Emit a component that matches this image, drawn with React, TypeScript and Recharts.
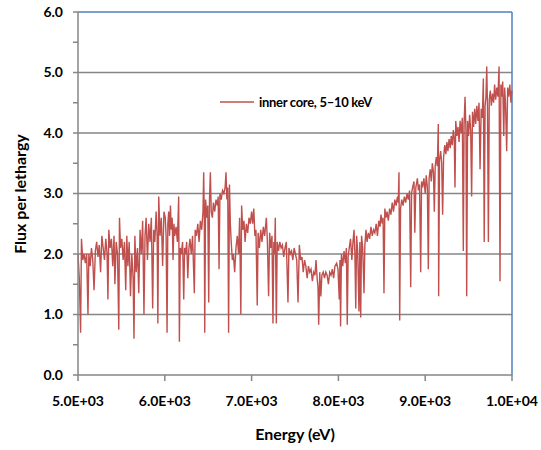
import React from 'react';
import { LineChart, Line, XAxis, YAxis, ReferenceLine } from 'recharts';

// [energy (eV), flux per lethargy], one array per 1 keV band
const band5000: [number, number][] = [
  [5000, 2.0], [5015, 1.6], [5030, 0.7], [5040, 2.25], [5055, 1.9], [5070, 2.0], [5085, 1.85],
  [5100, 2.0], [5115, 1.0], [5125, 2.0], [5140, 1.8], [5155, 2.1], [5170, 1.9], [5185, 1.4],
  [5200, 2.05], [5215, 2.2], [5230, 1.95], [5245, 2.15], [5260, 1.7], [5275, 2.3], [5290, 2.1],
  [5305, 1.9], [5320, 2.25], [5335, 2.0], [5345, 1.25], [5355, 2.4], [5370, 2.1], [5385, 2.25],
  [5400, 1.8], [5415, 2.3], [5425, 1.5], [5440, 2.2], [5455, 2.0], [5470, 0.75], [5478, 2.6],
  [5490, 2.1], [5505, 2.25], [5520, 1.9], [5535, 2.2], [5550, 1.4], [5562, 2.3], [5575, 1.8],
  [5590, 2.2], [5605, 1.3], [5620, 2.0], [5635, 1.6], [5645, 0.6], [5655, 2.3], [5670, 1.7],
  [5685, 2.1], [5700, 1.35], [5715, 2.4], [5730, 2.0], [5745, 2.55], [5760, 1.0], [5772, 2.3],
  [5785, 2.6], [5800, 1.9], [5815, 2.5], [5830, 2.2], [5845, 2.6], [5860, 1.1], [5872, 2.4],
  [5885, 2.2], [5900, 2.7], [5912, 2.3], [5920, 0.85], [5930, 2.95], [5945, 2.3], [5960, 2.6],
  [5975, 1.8], [5990, 2.7],
];

const band6000: [number, number][] = [
  [6005, 2.6], [6015, 2.3], [6026, 0.7], [6035, 2.5], [6045, 2.7], [6055, 2.3], [6065, 2.8],
  [6075, 2.4], [6085, 2.6], [6095, 1.9], [6105, 2.5], [6115, 2.3], [6130, 2.45], [6145, 2.2],
  [6160, 2.95], [6168, 0.55], [6178, 2.1], [6190, 2.0], [6205, 2.2], [6218, 1.25], [6228, 2.1],
  [6240, 2.0], [6252, 2.2], [6265, 1.6], [6278, 2.1], [6290, 2.25], [6305, 2.0], [6320, 2.3],
  [6340, 1.35], [6350, 2.4], [6365, 2.3], [6380, 2.5], [6395, 2.2], [6410, 2.55], [6425, 2.4],
  [6440, 2.7], [6448, 3.35], [6455, 2.6], [6460, 0.7], [6470, 2.9], [6485, 2.6], [6495, 2.8],
  [6506, 1.2], [6515, 2.9], [6525, 3.35], [6535, 2.7], [6548, 2.6], [6560, 2.85], [6575, 2.7],
  [6590, 2.9], [6605, 2.8], [6615, 2.95], [6625, 1.75], [6635, 3.0], [6650, 2.9], [6665, 3.05],
  [6680, 3.0], [6695, 3.1], [6705, 3.35], [6715, 2.9], [6725, 3.1], [6735, 0.7], [6745, 3.15],
  [6755, 2.5], [6765, 2.2], [6778, 1.9], [6790, 2.0], [6805, 1.7], [6820, 2.1], [6835, 2.3],
  [6850, 2.0], [6862, 2.6], [6876, 1.0], [6885, 2.8], [6898, 2.4], [6912, 2.55], [6925, 2.2],
  [6940, 2.5], [6955, 2.35], [6970, 2.6], [6985, 2.5],
];

const band7000: [number, number][] = [
  [7000, 2.7], [7012, 2.5], [7025, 2.75], [7038, 2.3], [7050, 2.4], [7065, 1.15], [7075, 2.35],
  [7090, 2.1], [7105, 2.4], [7120, 2.2], [7135, 2.45], [7150, 2.3], [7170, 2.6], [7182, 2.2],
  [7196, 1.3], [7208, 2.35], [7222, 2.1], [7235, 2.3], [7246, 0.85], [7256, 2.2], [7265, 2.0],
  [7273, 2.6], [7285, 0.85], [7295, 2.2], [7310, 2.05], [7325, 2.2], [7340, 2.1], [7355, 2.15],
  [7370, 1.95], [7385, 2.1], [7400, 2.2], [7419, 1.2], [7430, 2.1], [7445, 2.0], [7460, 2.05],
  [7475, 1.9], [7490, 2.1], [7505, 2.0], [7520, 1.9], [7535, 1.2], [7550, 2.15], [7565, 1.9],
  [7580, 1.95], [7595, 1.7], [7610, 1.9], [7625, 1.8], [7640, 1.6], [7655, 1.8], [7670, 1.7],
  [7685, 1.75], [7700, 1.55], [7715, 1.7], [7730, 1.65], [7742, 1.9], [7755, 1.6], [7765, 1.45],
  [7773, 0.83], [7785, 1.7], [7798, 1.3], [7810, 1.65], [7825, 1.7], [7840, 1.6], [7855, 1.7],
  [7870, 1.65], [7885, 1.5], [7900, 1.7], [7915, 1.65], [7930, 1.75], [7945, 1.6], [7960, 1.8],
  [7980, 1.85], [7995, 1.75],
];

const band8000: [number, number][] = [
  [8010, 1.25], [8018, 1.9], [8025, 0.8], [8035, 2.0], [8050, 1.8], [8065, 2.05], [8080, 1.85],
  [8092, 2.1], [8102, 0.83], [8112, 1.95], [8125, 2.1], [8140, 2.25], [8155, 1.9], [8168, 2.2],
  [8180, 2.4], [8190, 2.0], [8200, 1.1], [8210, 2.3], [8222, 2.05], [8237, 1.05], [8247, 2.2],
  [8257, 0.95], [8267, 2.3], [8280, 2.1], [8295, 1.35], [8305, 2.15], [8318, 2.4], [8330, 2.2],
  [8345, 2.35], [8360, 2.25], [8375, 2.45], [8390, 2.3], [8405, 2.4], [8420, 2.35], [8435, 2.5],
  [8450, 2.3], [8465, 2.55], [8480, 2.45], [8490, 2.65], [8505, 2.5], [8515, 2.6], [8525, 1.35],
  [8535, 2.75], [8548, 2.6], [8560, 2.7], [8575, 2.55], [8590, 2.75], [8605, 2.65], [8620, 2.85],
  [8635, 2.7], [8650, 2.9], [8665, 2.8], [8680, 2.95], [8690, 2.85], [8698, 3.35], [8706, 0.9],
  [8716, 2.75], [8730, 2.9], [8745, 2.8], [8760, 2.95], [8775, 2.85], [8790, 3.0], [8805, 2.9],
  [8820, 3.05], [8833, 1.45], [8843, 3.0], [8855, 3.1], [8871, 3.2], [8880, 2.35], [8892, 3.1],
  [8910, 3.25], [8922, 3.05], [8935, 3.15], [8948, 1.7], [8958, 3.2], [8970, 3.1], [8985, 3.25],
];

const band9000: [number, number][] = [
  [9000, 3.0], [9012, 3.3], [9025, 3.1], [9036, 1.75], [9045, 3.25], [9058, 3.4], [9070, 3.2],
  [9082, 3.5], [9095, 3.35], [9105, 2.7], [9115, 3.45], [9128, 3.6], [9140, 3.45], [9151, 4.15],
  [9155, 1.3], [9165, 3.55], [9178, 3.7], [9190, 3.5], [9201, 2.65], [9212, 3.6], [9225, 3.8],
  [9238, 3.65], [9250, 3.85], [9262, 3.7], [9275, 3.9], [9288, 3.75], [9300, 3.95], [9312, 3.8],
  [9324, 4.05], [9335, 3.9], [9343, 3.1], [9352, 4.2], [9365, 3.95], [9378, 4.1], [9390, 3.85],
  [9402, 4.2], [9415, 4.0], [9428, 4.25], [9439, 2.05], [9448, 4.15], [9459, 4.6], [9470, 4.0],
  [9478, 1.3], [9488, 4.2], [9500, 3.95], [9512, 4.3], [9524, 4.05], [9535, 2.95], [9545, 4.35],
  [9558, 4.1], [9570, 4.4], [9582, 4.15], [9595, 4.45], [9608, 4.2], [9620, 4.5], [9632, 3.4],
  [9645, 4.4], [9658, 4.25], [9670, 4.9], [9680, 2.2], [9690, 4.45], [9700, 4.6], [9709, 5.1],
  [9718, 4.4], [9728, 2.2], [9738, 4.55], [9750, 4.7], [9762, 4.45], [9775, 4.65], [9788, 4.5],
  [9800, 4.8], [9812, 4.55], [9825, 4.75], [9838, 4.6], [9851, 5.1], [9862, 1.55], [9872, 4.8],
  [9882, 4.6], [9893, 4.85], [9905, 3.95], [9915, 4.75], [9925, 4.5], [9939, 3.7], [9950, 4.75],
  [9962, 4.6], [9975, 4.8], [9988, 4.5], [9998, 4.7],
];

const xTicks = [5000, 6000, 7000, 8000, 9000, 10000];
const yTicks = [0, 0.5, 1, 1.5, 2, 2.5, 3, 3.5, 4, 4.5, 5, 5.5, 6];
const gridValues = [1, 2, 3, 4, 5];
const seriesName = 'inner core, 5\u201310 keV';

const data = [...band5000, ...band6000, ...band7000, ...band8000, ...band9000].map(([energy, flux]) => ({ energy, flux }));

const font = 'Lato, "Open Sans", sans-serif';
const tickStyle = { fill: '#000', fontSize: 14, fontWeight: 700, fontFamily: font };

const fmtE = (v: number) => {
  const exp = Math.floor(Math.log10(v));
  const m = (v / Math.pow(10, exp)).toFixed(1);
  return `${m}E+${String(exp).padStart(2, '0')}`;
};

// legend sits over the plot, so keep it out of recharts' layout
const LegendBox = () => (
  <div style={{ position: 'absolute', left: 220, top: 94, display: 'flex', alignItems: 'center', fontFamily: font, fontWeight: 700, fontSize: 13, letterSpacing: -0.3 }}>
    <svg width={34} height={4} style={{ marginRight: 5 }}>
      <line x1={0} y1={2} x2={34} y2={2} stroke="#c0504d" strokeWidth={1.5} />
    </svg>
    <span>{seriesName}</span>
  </div>
);

const App: React.FC = () => (
  <div style={{ position: 'absolute', left: 0, top: 0, width: 541, height: 450 }}>
    <LineChart width={541} height={450} data={data} margin={{ top: 12, right: 29, bottom: 45, left: 38 }}>
      <XAxis
        type="number"
        dataKey="energy"
        domain={[5000, 10000]}
        ticks={xTicks}
        tickFormatter={fmtE}
        tickSize={6}
        tickMargin={15}
        height={30}
        stroke="#868686"
        strokeWidth={1.5}
        tick={tickStyle}
        label={{ value: 'Energy (eV)', position: 'bottom', offset: 24, style: { fill: '#000', fontSize: 16, fontWeight: 700, fontFamily: font } }}
      />
      <YAxis
        type="number"
        domain={[0, 6]}
        ticks={yTicks}
        tickFormatter={(v: number) => (Number.isInteger(v) ? v.toFixed(1) : '')}
        tickSize={5}
        tickMargin={10}
        width={40}
        stroke="#868686"
        strokeWidth={1.5}
        tick={tickStyle}
        label={{
          content: () => (
            <text x={19} y={194} transform="rotate(-90 19 194)" textAnchor="middle" dominantBaseline="central"
              style={{ fill: '#000', fontSize: 16, fontWeight: 700, fontFamily: font }}>
              Flux per lethargy
            </text>
          ),
        }}
      />
      {gridValues.map((v) => (
        <ReferenceLine key={v} y={v} stroke="#868686" strokeWidth={1.5} />
      ))}
      <ReferenceLine y={6} stroke="#4f81bd" strokeWidth={1.5} />
      <ReferenceLine x={10000} stroke="#4f81bd" strokeWidth={1.5} />
      <Line type="linear" dataKey="flux" stroke="#c0504d" strokeWidth={1.4} dot={false} isAnimationActive={false} />
    </LineChart>
    <LegendBox />
  </div>
);

export default App;
